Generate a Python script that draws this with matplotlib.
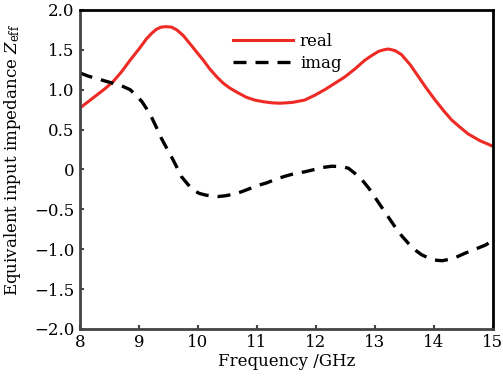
import numpy as np
import matplotlib.pyplot as plt

# Données
freq_real = [8.0, 8.14, 8.28, 8.42, 8.56, 8.7, 8.85, 9.0, 9.13, 9.22, 9.3, 9.38, 9.46, 9.55,
             9.64, 9.75, 9.86, 9.98, 10.09, 10.2, 10.32, 10.43, 10.54, 10.68, 10.82, 10.96,
             11.1, 11.25, 11.39, 11.6, 11.81, 11.98, 12.15, 12.32, 12.49, 12.66, 12.83,
             12.95, 13.06, 13.15, 13.23, 13.34, 13.45, 13.6, 13.74, 13.88, 14.02, 14.16,
             14.3, 14.44, 14.58, 14.78, 15.0]
z_real = [0.77, 0.85, 0.93, 1.01, 1.10, 1.22, 1.37, 1.51, 1.64, 1.71, 1.76, 1.785, 1.79,
          1.785, 1.75, 1.68, 1.58, 1.47, 1.37, 1.26, 1.16, 1.08, 1.02, 0.96, 0.905, 0.87,
          0.85, 0.835, 0.83, 0.84, 0.87, 0.93, 1.0, 1.08, 1.16, 1.26, 1.37, 1.43, 1.48,
          1.50, 1.51, 1.49, 1.44, 1.31, 1.16, 1.01, 0.87, 0.74, 0.62, 0.53, 0.445, 0.36,
          0.29]

freq_imag = [8.0, 8.14, 8.28, 8.42, 8.56, 8.7, 8.85, 8.95, 9.05, 9.13, 9.21, 9.3, 9.38,
             9.46, 9.55, 9.64, 9.72, 9.82, 9.92, 10.02, 10.12, 10.23, 10.34, 10.47, 10.6,
             10.74, 10.88, 11.02, 11.16, 11.33, 11.5, 11.65, 11.81, 11.98, 12.12, 12.27,
             12.44, 12.55, 12.66, 12.78, 12.9, 13.0, 13.11, 13.22, 13.34, 13.45, 13.57,
             13.68, 13.79, 13.92, 14.05, 14.14, 14.24, 14.38, 14.53, 14.7, 14.87, 15.0]
z_imag = [1.21, 1.17, 1.14, 1.11, 1.08, 1.05, 1.0, 0.93, 0.85, 0.76, 0.66, 0.52, 0.39,
          0.28, 0.16, 0.03, -0.09, -0.18, -0.26, -0.30, -0.32, -0.335, -0.34, -0.33,
          -0.31, -0.28, -0.24, -0.20, -0.17, -0.12, -0.08, -0.05, -0.03, 0.0, 0.025,
          0.04, 0.035, 0.015, -0.05, -0.13, -0.24, -0.35, -0.47, -0.59, -0.72, -0.83,
          -0.93, -1.01, -1.07, -1.115, -1.14, -1.145, -1.13, -1.10, -1.05, -1.0, -0.95,
          -0.89]

x_ticks = [8, 9, 10, 11, 12, 13, 14, 15]
y_ticks = [-2.0, -1.5, -1.0, -0.5, 0, 0.5, 1.0, 1.5, 2.0]
y_labels = ['\u22122.0', '\u22121.5', '\u22121.0', '\u22120.5', '0', '0.5', '1.0', '1.5', '2.0']

plt.rcParams['font.family'] = ['DejaVu Serif']
plt.rcParams['mathtext.fontset'] = 'dejavuserif'

fig = plt.figure(figsize=(5.03, 3.82), dpi=100)
ax = fig.add_axes([0.159, 0.139, 0.821, 0.835])

ax.plot(freq_real, z_real, color='#ee2a24', lw=2.2, label='real')
ax.plot(freq_imag, z_imag, color='black', lw=2.4, ls=(0, (3.9, 2.7)), label='imag')

ax.set_xlim(8, 15)
ax.set_ylim(-2.0, 2.0)
ax.set_xticks(x_ticks)
ax.set_yticks(y_ticks)
ax.set_yticklabels(y_labels)
ax.tick_params(direction='in', length=3, width=1.5, labelsize=12, color='#444444', pad=4)

for side in ['left', 'bottom']:
    ax.spines[side].set_color('#444444')
    ax.spines[side].set_linewidth(2.0)
for side in ['top', 'right']:
    ax.spines[side].set_color('black')
    ax.spines[side].set_linewidth(2.0)

ax.set_xlabel('Frequency /GHz', fontsize=12, labelpad=1)
ax.set_ylabel('Equivalent input impedance $Z_{\\mathrm{eff}}$', fontsize=12, labelpad=2)
ax.yaxis.set_label_coords(-0.137, 0.53)

ax.legend(loc='upper left', bbox_to_anchor=(0.355, 0.948), frameon=False, fontsize=12,
          handlelength=3.6, handletextpad=0.4, labelspacing=0.3, borderaxespad=0)

fig.savefig('out.png', dpi=100)
